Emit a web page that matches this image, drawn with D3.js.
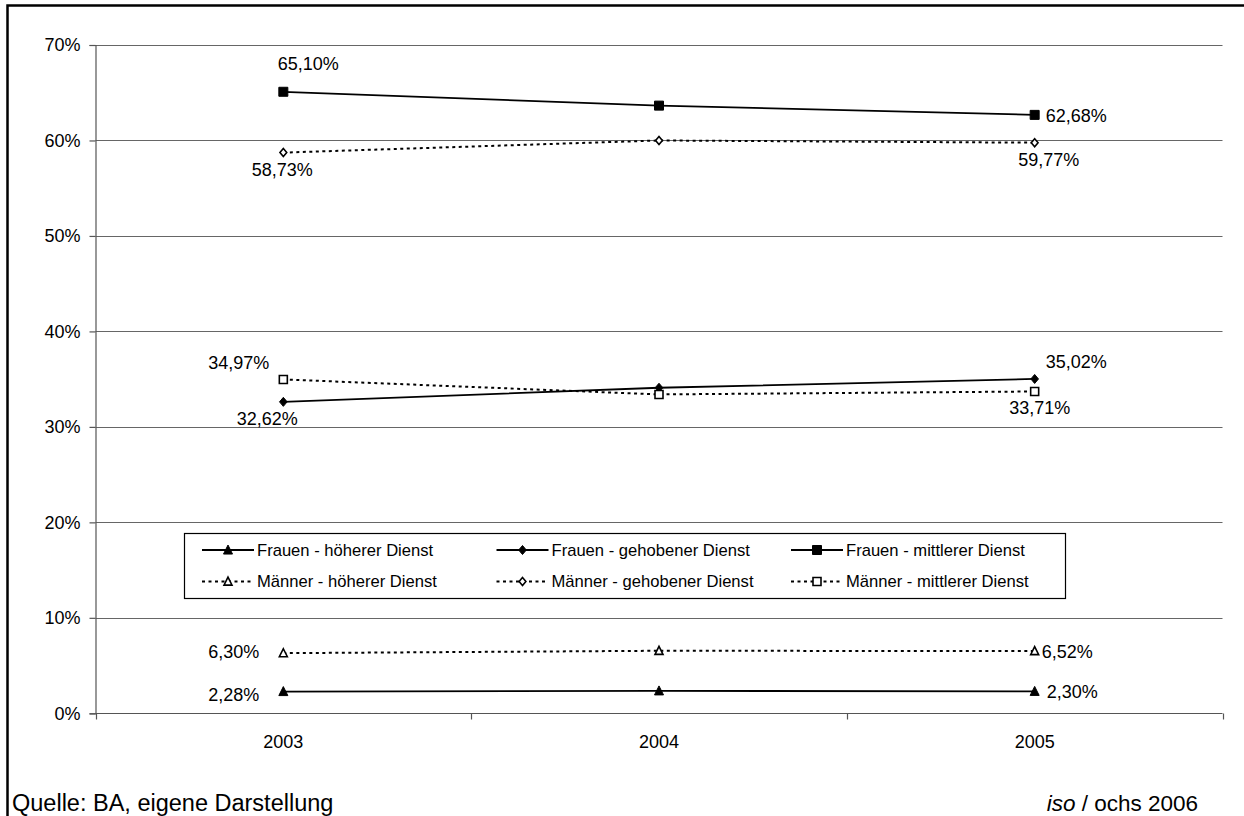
<!DOCTYPE html>
<html>
<head>
<meta charset="utf-8">
<script src="https://cdn.jsdelivr.net/npm/d3@7"></script>
<style>
  html, body { margin: 0; padding: 0; background: #fff; }
  svg { display: block; font-family: "Liberation Sans", Arial, sans-serif; }
</style>
</head>
<body>
<svg id="chart" width="1244" height="816"></svg>
<script>
// Anteile nach Laufbahngruppe (in %)
const years = ["2003", "2004", "2005"];
const yTicks = [0, 10, 20, 30, 40, 50, 60, 70];

const frauenHoeherer   = [2.28, 2.35, 2.30];
const frauenGehobener  = [32.62, 34.10, 35.02];
const frauenMittlerer  = [65.10, 63.65, 62.68];
const maennerHoeherer  = [6.30, 6.55, 6.52];
const maennerGehobener = [58.73, 60.00, 59.77];
const maennerMittlerer = [34.97, 33.40, 33.71];

const seriesNames = [
  "Frauen - höherer Dienst", "Frauen - gehobener Dienst", "Frauen - mittlerer Dienst",
  "Männer - höherer Dienst", "Männer - gehobener Dienst", "Männer - mittlerer Dienst"
];
const seriesValues = [frauenHoeherer, frauenGehobener, frauenMittlerer,
                      maennerHoeherer, maennerGehobener, maennerMittlerer];

// marker shapes
const triangle = { draw(ctx, s) { const h = s; ctx.moveTo(0, -h * 0.55); ctx.lineTo(h * 0.5, h * 0.45); ctx.lineTo(-h * 0.5, h * 0.45); ctx.closePath(); } };
const diamond  = { draw(ctx, s) { const r = s / 2; ctx.moveTo(0, -r); ctx.lineTo(r * 0.85, 0); ctx.lineTo(0, r); ctx.lineTo(-r * 0.85, 0); ctx.closePath(); } };
const square   = { draw(ctx, s) { const r = s / 2; ctx.rect(-r, -r, s, s); } };

const styles = [
  { shape: triangle, size: 9, fill: "#000", dash: null },
  { shape: diamond,  size: 9, fill: "#000", dash: null },
  { shape: square,   size: 9, fill: "#000", dash: null },
  { shape: triangle, size: 8, fill: "#fff", dash: "3,3.5" },
  { shape: diamond,  size: 8, fill: "#fff", dash: "3,3.5" },
  { shape: square,   size: 8, fill: "#fff", dash: "3,3.5" }
];

// label placement for first and last point of each series: [dx, dy, anchor]
const labelPlacement = [
  [[-24, 3, "end"],    [12, 0, "start"]],
  [[-16, 17, "middle"], [11, -17, "start"]],
  [[25, -28, "middle"], [11, 1, "start"]],
  [[-24, -1, "end"],   [7, 1, "start"]],
  [[-1, 17, "middle"],  [14, 17, "middle"]],
  [[-14, -17, "end"],  [5, 16, "middle"]]
];

const svg = d3.select("#chart");
const x = d3.scaleBand().domain(years).range([95.5, 1222.5]);
const y = d3.scaleLinear().domain([0, 70]).range([713.3, 45]);
const cx = d => x(d) + x.bandwidth() / 2;
const fmt = v => d3.format(".2f")(v).replace(".", ",") + "%";

// outer frame
svg.append("path").attr("d", "M7.5,820V5.5H1250")
  .attr("fill", "none").attr("stroke", "#000").attr("stroke-width", 2.5);

// horizontal gridlines
svg.append("g").selectAll("line").data(yTicks.filter(t => t > 0)).join("line")
  .attr("x1", 95.5).attr("x2", 1222.5)
  .attr("y1", d => Math.round(y(d)) + 0.5).attr("y2", d => Math.round(y(d)) + 0.5)
  .attr("stroke", "#666").attr("stroke-width", 1.2);

// y axis
const yAxis = svg.append("g").attr("transform", "translate(95.5,0)")
  .call(d3.axisLeft(y).tickValues(yTicks).tickSize(6).tickPadding(9).tickFormat(d => d + "%"));
yAxis.selectAll("text").attr("font-size", 18).attr("fill", "#000")
  .attr("font-family", "Liberation Sans, Arial, sans-serif");
yAxis.selectAll("line, path").attr("stroke", "#555").attr("stroke-width", 1.2);

// x axis with ticks at category boundaries
const xAxis = svg.append("g").attr("transform", "translate(0,713.5)")
  .call(d3.axisBottom(x).tickSize(0).tickPadding(22));
xAxis.selectAll("text").attr("font-size", 18).attr("fill", "#000")
  .attr("font-family", "Liberation Sans, Arial, sans-serif");
xAxis.select("path").attr("d", "M95.5,0H1222.5").attr("stroke", "#555").attr("stroke-width", 1.2);
const bounds = years.map(d => x(d)).concat([x.range()[1]]);
xAxis.selectAll(".bound").data(bounds).join("line").attr("class", "bound")
  .attr("x1", d => Math.round(d) + 0.5).attr("x2", d => Math.round(d) + 0.5)
  .attr("y1", 0).attr("y2", 6).attr("stroke", "#555").attr("stroke-width", 1.2);

// series lines, markers and labels
const line = d3.line().x((v, i) => cx(years[i])).y(v => y(v));
seriesValues.forEach((vals, si) => {
  const st = styles[si];
  const g = svg.append("g");
  g.append("path").attr("d", line(vals)).attr("fill", "none")
    .attr("stroke", "#000").attr("stroke-width", st.dash ? 2 : 1.8)
    .attr("stroke-dasharray", st.dash);
  g.selectAll("path.m").data(vals).join("path").attr("class", "m")
    .attr("transform", (v, i) => `translate(${cx(years[i])},${y(v)})`)
    .attr("d", d3.symbol().type(st.shape).size(st.size))
    .attr("fill", st.fill).attr("stroke", "#000").attr("stroke-width", st.fill === "#fff" ? 1.6 : 1);
  [0, vals.length - 1].forEach((i, k) => {
    const [dx, dy, anchor] = labelPlacement[si][k];
    g.append("text")
      .attr("x", cx(years[i]) + dx).attr("y", y(vals[i]) + dy)
      .attr("dy", "0.35em").attr("text-anchor", anchor)
      .attr("font-size", 18).text(fmt(vals[i]));
  });
});

// legend
const legend = svg.append("g");
legend.append("rect").attr("x", 184.5).attr("y", 533.5).attr("width", 881).attr("height", 65)
  .attr("fill", "#fff").attr("stroke", "#000").attr("stroke-width", 1.2);
const colX = [228, 522.5, 817];
const rowY = [550, 581.5];
seriesNames.forEach((name, si) => {
  const st = styles[si];
  const mx = colX[si % 3], my = rowY[Math.floor(si / 3)];
  const item = legend.append("g");
  item.append("line").attr("x1", mx - 26).attr("x2", mx + 26).attr("y1", my).attr("y2", my)
    .attr("stroke", "#000").attr("stroke-width", st.dash ? 2 : 1.8)
    .attr("stroke-dasharray", st.dash);
  item.append("path").attr("transform", `translate(${mx},${my})`)
    .attr("d", d3.symbol().type(st.shape).size(st.size))
    .attr("fill", st.fill).attr("stroke", "#000").attr("stroke-width", st.fill === "#fff" ? 1.6 : 1);
  item.append("text").attr("x", mx + 29).attr("y", my).attr("dy", "0.35em")
    .attr("font-size", 16.6).text(name);
});

// footer
svg.append("text").attr("x", 12).attr("y", 811).attr("font-size", 23.5)
  .text("Quelle: BA, eigene Darstellung");
const credit = svg.append("text").attr("x", 1198).attr("y", 811).attr("font-size", 22.5)
  .attr("text-anchor", "end");
credit.append("tspan").attr("font-style", "italic").text("iso");
credit.append("tspan").text(" / ochs 2006");
</script>
</body>
</html>
